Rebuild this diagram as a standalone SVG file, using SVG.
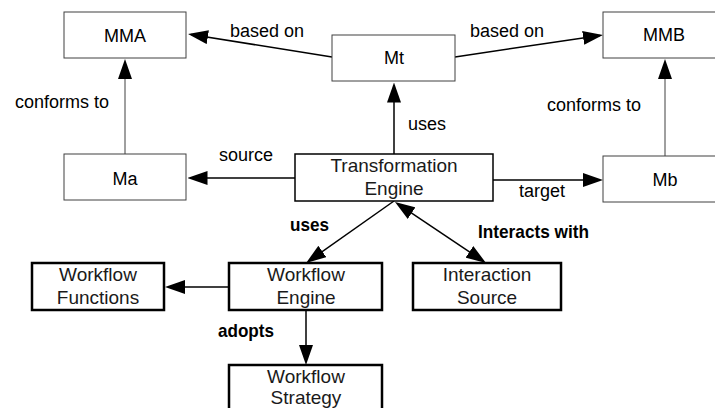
<svg xmlns="http://www.w3.org/2000/svg" width="715" height="408" viewBox="0 0 715 408">
<style>
  .bg { fill: #ffffff; }
  .box1 { fill: #ffffff; stroke: #404040; stroke-width: 1; }
  .box2 { fill: #ffffff; stroke: #000000; stroke-width: 1.5; }
  .box3 { fill: #ffffff; stroke: #000000; stroke-width: 2.5; }
  .t { font-family: "Liberation Sans", Arial, sans-serif; font-size: 18px; fill: #000; }
  .tn { font-family: "Liberation Sans", Arial, sans-serif; font-size: 19px; fill: #1a1a1a; text-anchor: middle; }
  .tb { font-family: "Liberation Sans", Arial, sans-serif; font-size: 19px; font-weight: bold; fill: #000; }
  .c { text-anchor: middle; }
  .ln { stroke: #000; stroke-width: 1.5; fill: none; }
  .lg { stroke: #404040; stroke-width: 1; fill: none; }
</style>
<defs>
  <marker id="ah" viewBox="0 0 20 14" refX="17" refY="7" markerWidth="20" markerHeight="14" markerUnits="userSpaceOnUse" orient="auto-start-reverse">
    <path d="M0,0 L20,7 L0,14 z" fill="#000"/>
  </marker>
</defs>
<rect class="bg" x="0" y="0" width="715" height="408"/>

<g id="connectors">
  <line class="ln" x1="332" y1="57" x2="191" y2="34.5" marker-end="url(#ah)"/>
  <line class="ln" x1="455" y1="57" x2="600" y2="35.4" marker-end="url(#ah)"/>
  <line class="lg" x1="125" y1="154" x2="125" y2="62" marker-end="url(#ah)"/>
  <line class="lg" x1="665" y1="156" x2="665" y2="62" marker-end="url(#ah)"/>
  <line class="ln" x1="394" y1="154" x2="394" y2="85.5" marker-end="url(#ah)"/>
  <line class="ln" x1="295" y1="178" x2="190.5" y2="178" marker-end="url(#ah)"/>
  <line class="ln" x1="493" y1="180" x2="600" y2="180" marker-end="url(#ah)"/>
  <line class="ln" x1="394" y1="201" x2="308.5" y2="261.3" marker-end="url(#ah)"/>
  <line class="ln" x1="397.5" y1="203.7" x2="483.5" y2="261.3" marker-start="url(#ah)" marker-end="url(#ah)"/>
  <line class="ln" x1="229" y1="287" x2="168" y2="287" marker-end="url(#ah)"/>
  <line class="ln" x1="306" y1="310" x2="306" y2="362" marker-end="url(#ah)"/>
</g>

<g id="labels">
  <text class="t" x="230" y="36.5">based on</text>
  <text class="t" x="470" y="36.5">based on</text>
  <text class="t" x="15" y="108">conforms to</text>
  <text class="t" x="547" y="111">conforms to</text>
  <text class="t" x="408" y="130">uses</text>
  <text class="t" x="219" y="161">source</text>
  <text class="t" x="519" y="197">target</text>
  <text class="tb" x="290" y="231" textLength="39" lengthAdjust="spacingAndGlyphs">uses</text>
  <text class="tb" x="478" y="238" textLength="111" lengthAdjust="spacingAndGlyphs">Interacts with</text>
  <text class="tb" x="218" y="337" textLength="56" lengthAdjust="spacingAndGlyphs">adopts</text>
</g>

<g id="MMA">
  <rect class="box1" x="64" y="12" width="122" height="46"/>
  <text class="t c" x="125" y="41.5">MMA</text>
</g>
<g id="Mt">
  <rect class="box1" x="332" y="35" width="123" height="46"/>
  <text class="t c" x="394" y="64">Mt</text>
</g>
<g id="MMB">
  <rect class="box1" x="603" y="12" width="123" height="46"/>
  <text class="t c" x="664" y="41">MMB</text>
</g>
<g id="Ma">
  <rect class="box1" x="64" y="154" width="122" height="46"/>
  <text class="t c" x="125" y="184.5">Ma</text>
</g>
<g id="Mb">
  <rect class="box1" x="603" y="156" width="123" height="46"/>
  <text class="t c" x="665" y="185.5">Mb</text>
</g>
<g id="TransformationEngine">
  <rect class="box2" x="295" y="154" width="198" height="47"/>
  <text class="tn" x="394" y="172">Transformation</text>
  <text class="tn" x="394" y="194.5">Engine</text>
</g>
<g id="WorkflowFunctions">
  <rect class="box3" x="32" y="263" width="132" height="47"/>
  <text class="tn" x="98" y="281">Workflow</text>
  <text class="tn" x="98" y="304">Functions</text>
</g>
<g id="WorkflowEngine">
  <rect class="box3" x="229" y="263" width="153" height="47"/>
  <text class="tn" x="306" y="281">Workflow</text>
  <text class="tn" x="306" y="304">Engine</text>
</g>
<g id="InteractionSource">
  <rect class="box3" x="413" y="263" width="148" height="47"/>
  <text class="tn" x="487" y="281">Interaction</text>
  <text class="tn" x="487" y="304">Source</text>
</g>
<g id="WorkflowStrategy">
  <rect class="box3" x="229" y="365" width="153" height="50"/>
  <text class="tn" x="306" y="382.5">Workflow</text>
  <text class="tn" x="306" y="403.5">Strategy</text>
</g>
</svg>
